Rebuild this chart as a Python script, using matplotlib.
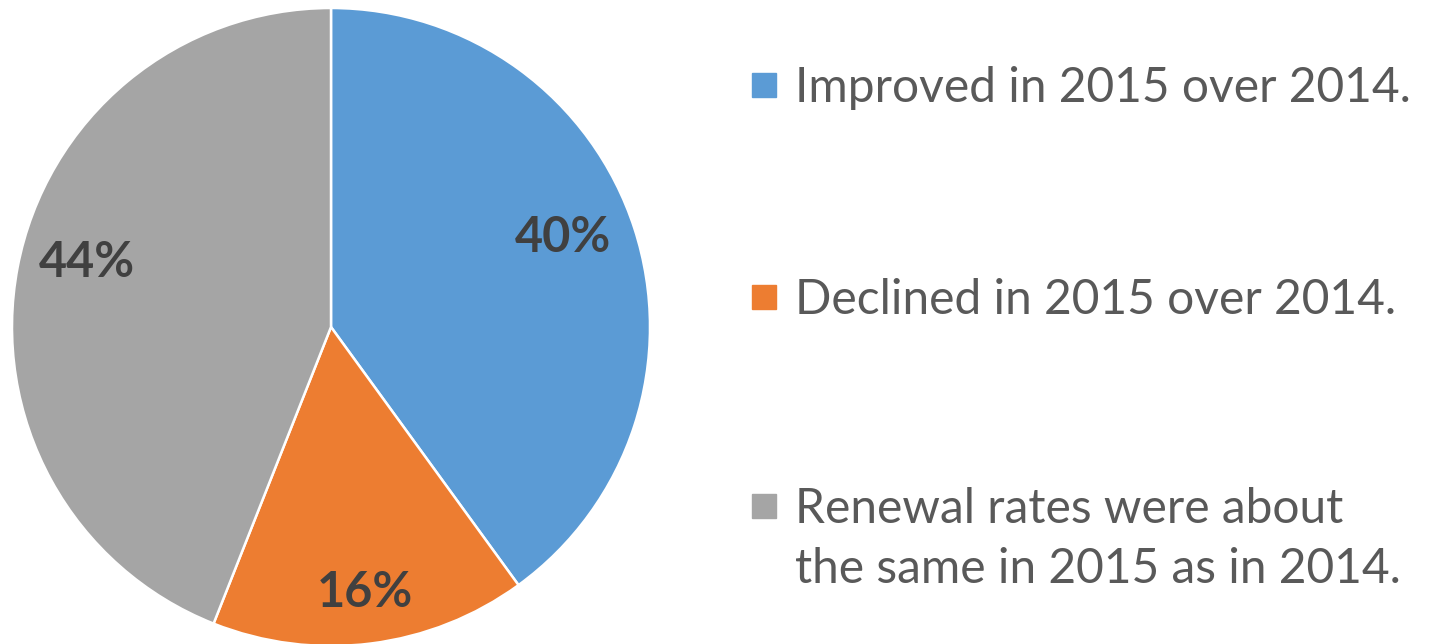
import numpy as np
import matplotlib
matplotlib.use("Agg")
import matplotlib.pyplot as plt
from matplotlib.patches import Rectangle

# Renewal rate change, share of respondents
categories = [
    "Improved in 2015 over 2014.",
    "Declined in 2015 over 2014.",
    "Renewal rates were about\nthe same in 2015 as in 2014.",
]
shares = [40, 16, 44]
colors = ["#5B9BD5", "#ED7D31", "#A5A5A5"]

plt.rcParams["font.family"] = ["Lato", "DejaVu Sans"]

W, H = 1430, 644
fig = plt.figure(figsize=(W / 100, H / 100), dpi=100)

# square axes holding the pie, in pixel terms
cx, cy, r = 331, 327, 319
ax = fig.add_axes([(cx - r) / W, (H - cy - r) / H, 2 * r / W, 2 * r / H])
wedges, _, autotexts = ax.pie(
    shares, colors=colors, startangle=90, counterclock=False,
    radius=1, autopct="%.0f%%",
    wedgeprops=dict(edgecolor="white", linewidth=1.8),
    textprops=dict(fontsize=35, fontweight="bold", color="#404040"),
)
ax.set_xlim(-1, 1)
ax.set_ylim(-1, 1)

# best-fit style placement: radial distance and angular shift per label
label_dist = [0.78, 0.84, 0.79]
label_shift = [3, 0, -4]
for w, t, d, s in zip(wedges, autotexts, label_dist, label_shift):
    ang = np.deg2rad((w.theta1 + w.theta2) / 2 + s)
    t.set_position((d * np.cos(ang), d * np.sin(ang)))

# legend drawn by hand so the marker sits on the first line of wrapped text
first_baselines = [102, 314, 523]
line_step = 60
for label, color, yb in zip(categories, colors, first_baselines):
    yc = yb - 17
    fig.patches.append(Rectangle((752 / W, 1 - (yc + 12) / H), 24 / W, 24 / H,
                                 transform=fig.transFigure, color=color))
    last = yb + line_step * label.count("\n")
    fig.text(795 / W, 1 - last / H, label, fontsize=34.5, color="#595959",
             ha="left", va="baseline", linespacing=1.45)

fig.savefig("out.png", dpi=100)
